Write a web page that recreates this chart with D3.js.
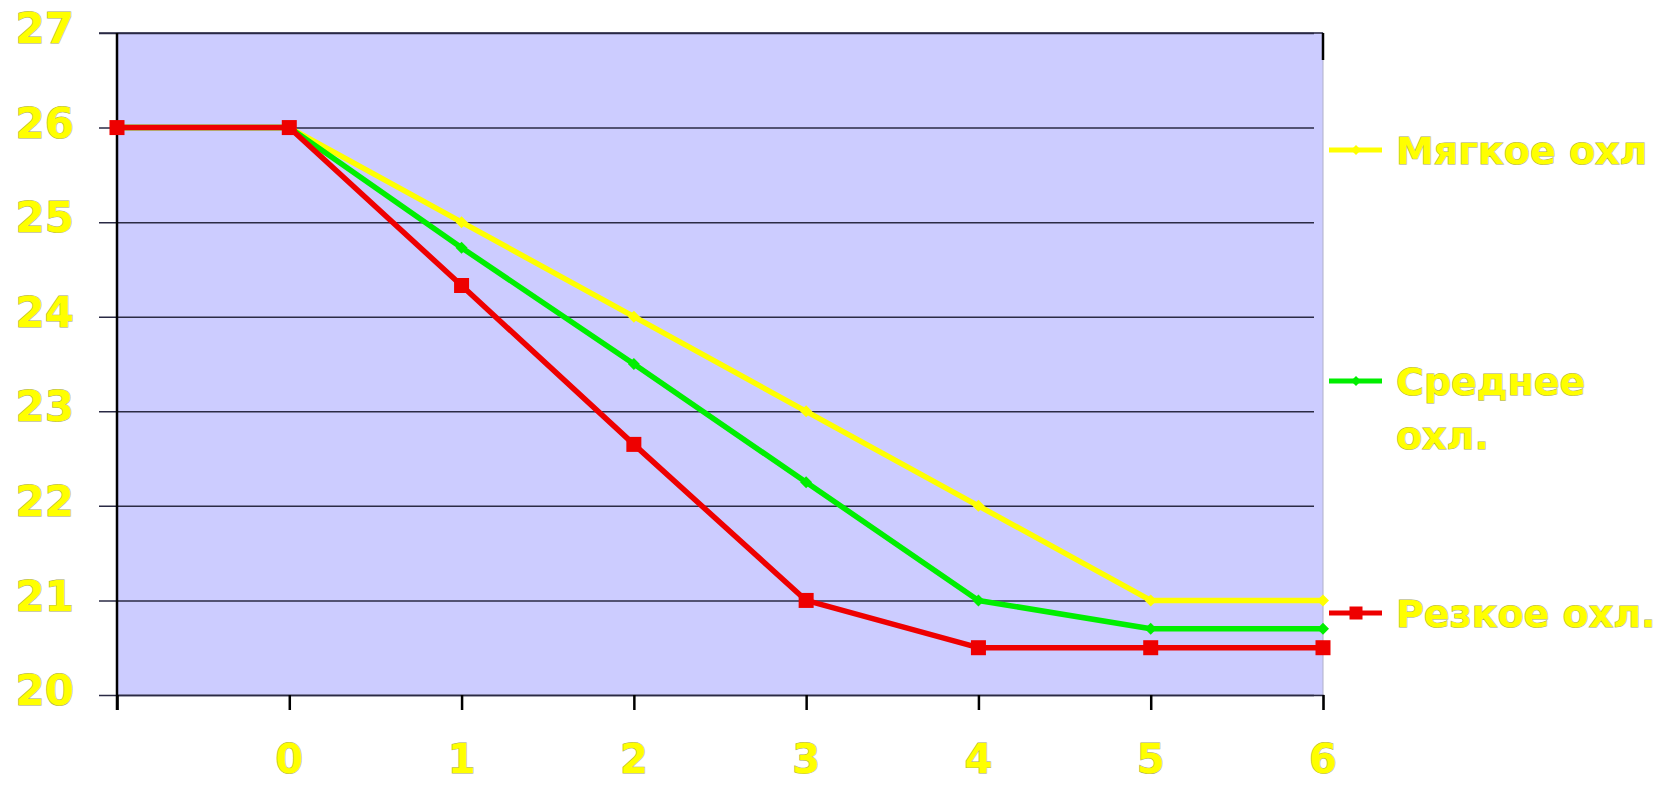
<!DOCTYPE html>
<html>
<head>
<meta charset="utf-8">
<script src="https://cdn.jsdelivr.net/npm/d3@7"></script>
<style>
  body { margin: 0; background: #fff; }
  .lbl { font-family: "Comic Sans MS", "DejaVu Sans", sans-serif; font-weight: bold; fill: #ffff00; stroke: #a8a860; stroke-width: 1px; paint-order: stroke; }
</style>
</head>
<body>
<svg id="chart" width="1657" height="785"></svg>
<script>
// categories (first one has no label)
var categories = ["", "0", "1", "2", "3", "4", "5", "6"];
var yTicks = [20, 21, 22, 23, 24, 25, 26, 27];

// series values
var soft   = [26, 26, 25, 24, 23, 22, 21, 21];
var medium = [26, 26, 24.73, 23.5, 22.25, 21, 20.7, 20.7];
var sharp  = [26, 26, 24.33, 22.65, 21, 20.5, 20.5, 20.5];

var seriesNames = [["Мягкое охл"], ["Среднее", "охл."], ["Резкое охл."]];

var svg = d3.select("#chart"),
    margin = {top: 33, right: 334, bottom: 90, left: 117},
    width = +svg.attr("width") - margin.left - margin.right,
    height = +svg.attr("height") - margin.top - margin.bottom,
    g = svg.append("g").attr("transform", "translate(" + margin.left + "," + margin.top + ")");

var x = d3.scalePoint()
    .domain(d3.range(categories.length))
    .range([0, width]);

var y = d3.scaleLinear()
    .domain([20, 27])
    .range([height, 0]);

// plot area
g.append("rect")
    .attr("width", width)
    .attr("height", height)
    .attr("fill", "#ccccff")
    .attr("stroke", "#b0b0c8")
    .attr("stroke-width", 1);

// gridlines + left ticks
g.append("g")
    .call(d3.axisLeft(y).tickValues(yTicks).tickSize(-width + 9).tickFormat(""))
    .call(function(a) {
      a.select(".domain").remove();
      a.selectAll(".tick line").attr("stroke", "#2a2a44").attr("stroke-width", 1.5).attr("x1", -18);
    });
// top line spans full width
g.append("line")
    .attr("x1", -18).attr("x2", width)
    .attr("y1", y(27)).attr("y2", y(27))
    .attr("stroke", "#2a2a44").attr("stroke-width", 1.5);

// y labels
g.append("g").selectAll("text")
  .data(yTicks)
  .enter().append("text")
    .attr("class", "lbl")
    .attr("x", -43)
    .attr("y", function(d) { return y(d); })
    .attr("dy", "0.24em")
    .attr("text-anchor", "end")
    .style("font-size", "42px")
    .text(function(d) { return d; });

// bottom axis
g.append("g")
    .attr("transform", "translate(0," + height + ")")
    .call(d3.axisBottom(x).tickSize(15).tickFormat(""))
    .call(function(a) {
      a.select(".domain").attr("stroke", "#2a2a44").attr("stroke-width", 1.5);
      a.selectAll(".tick line").attr("stroke", "#000").attr("stroke-width", 2.5);
    });

// left axis line
g.append("line")
    .attr("x1", 0).attr("x2", 0)
    .attr("y1", 0).attr("y2", height + 15)
    .attr("stroke", "#000").attr("stroke-width", 2.5);

// little dark mark on top right
g.append("line")
    .attr("x1", width).attr("x2", width)
    .attr("y1", 0).attr("y2", 27)
    .attr("stroke", "#000").attr("stroke-width", 2.5);

// x labels
g.append("g").selectAll("text")
  .data(categories)
  .enter().append("text")
    .attr("class", "lbl")
    .attr("x", function(d, i) { return x(i); })
    .attr("y", height + 78)
    .attr("text-anchor", "middle")
    .style("font-size", "40px")
    .text(function(d) { return d; });

var line = d3.line()
    .x(function(d, i) { return x(i); })
    .y(function(d) { return y(d); });

var series = [
  {values: soft,   color: "#ffff00", marker: "diamond", size: 6},
  {values: medium, color: "#00ee00", marker: "diamond", size: 6},
  {values: sharp,  color: "#ee0000", marker: "square",  size: 7.5}
];

function drawMarker(sel, s) {
  if (s.marker === "square") {
    sel.append("rect")
      .attr("x", -s.size).attr("y", -s.size)
      .attr("width", s.size * 2).attr("height", s.size * 2)
      .attr("fill", s.color);
  } else {
    sel.append("path")
      .attr("d", "M0," + (-s.size) + "L" + s.size + ",0L0," + s.size + "L" + (-s.size) + ",0Z")
      .attr("fill", s.color);
  }
}

series.forEach(function(s) {
  g.append("path")
      .datum(s.values)
      .attr("fill", "none")
      .attr("stroke", s.color)
      .attr("stroke-width", 5.5)
      .attr("stroke-linejoin", "round")
      .attr("d", line);

  g.append("g").selectAll("g")
    .data(s.values)
    .enter().append("g")
      .attr("transform", function(d, i) { return "translate(" + x(i) + "," + y(d) + ")"; })
      .each(function() { drawMarker(d3.select(this), s); });
});

// legend
var legendY = [150, 381, 613];
var legend = svg.append("g").attr("transform", "translate(1329,0)");

series.forEach(function(s, k) {
  var lg = legend.append("g").attr("transform", "translate(0," + legendY[k] + ")");
  lg.append("line")
      .attr("x1", 0).attr("x2", 53)
      .attr("stroke", s.color).attr("stroke-width", 5);
  var m = lg.append("g").attr("transform", "translate(27,0)");
  drawMarker(m, {color: s.color, marker: s.marker, size: s.marker === "square" ? 6.5 : 5});
  seriesNames[k].forEach(function(t, j) {
    lg.append("text")
      .attr("class", "lbl")
      .attr("x", 67)
      .attr("y", j * 54)
      .attr("dy", "0.36em")
      .style("font-size", "38px")
      .text(t);
  });
});
</script>
</body>
</html>
